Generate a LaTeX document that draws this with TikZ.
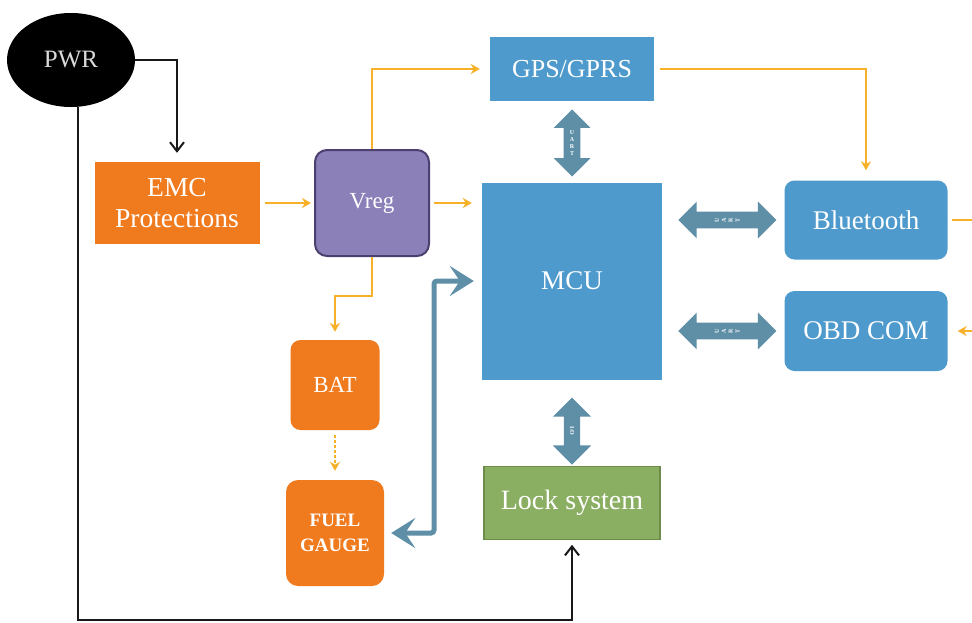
\documentclass[tikz,border=0pt]{standalone}
\usepackage{fontspec}
\setmainfont{Liberation Serif}
\usetikzlibrary{shapes,shapes.geometric,shapes.arrows,arrows,arrows.meta,calc,positioning}

\definecolor{pwrorange}{RGB}{240,123,31}
\definecolor{regpurple}{RGB}{139,128,184}
\definecolor{regedge}{RGB}{75,64,112}
\definecolor{mcublue}{RGB}{78,154,205}
\definecolor{busblue}{RGB}{94,143,166}
\definecolor{lockgreen}{RGB}{138,174,98}
\definecolor{lockedge}{RGB}{108,140,74}
\definecolor{wirecol}{RGB}{246,177,41}

\begin{document}
\begin{tikzpicture}[%
    x=1pt, y=-1pt,
    >=stealth,
    on grid,
    auto,
    font=\fontsize{26}{31}\selectfont,
    block/.style={rectangle, fill=mcublue, text=white, inner sep=0pt, align=center},
    rblock/.style={block, rounded corners=10pt},
    oblock/.style={rblock, fill=pwrorange},
    link/.style={double arrow, fill=busblue, text=white, inner sep=6pt,
      double arrow head extend=10pt, font=\fontsize{6}{6.5}\selectfont\bfseries},
    wire/.style={draw=wirecol, line width=2pt, -{Stealth[length=9pt,width=10pt]}},
    bus/.style={draw=busblue, line width=5pt, rounded corners=3pt,
      {Stealth[length=24pt,width=30pt,inset=10pt]}-{Stealth[length=24pt,width=30pt,inset=10pt]}},
    pwrwire/.style={draw=black!90, line width=2pt, -{Straight Barb[length=9pt,width=14pt]}}
  ]
  \path[fill=white, use as bounding box] (0,0) rectangle (972,622);

  \node[ellipse, fill=black, text=white!85!black, minimum width=128pt, minimum height=94pt,
    inner sep=0pt, font=\fontsize{25}{27}\selectfont] (pwr) at (71,60) {PWR};
  \node[block, fill=pwrorange, minimum width=165pt, minimum height=82pt,
    font=\fontsize{27.5}{31}\selectfont] (emc) at (177,203) {EMC\\Protections};
  \node[block, rounded corners=12pt, fill=regpurple, draw=regedge, line width=2pt,
    minimum width=114pt, minimum height=106pt, font=\fontsize{23}{26}\selectfont] (vreg) [right=195pt of emc] {Vreg};
  \node[block, minimum width=180pt, minimum height=197pt, font=\fontsize{27}{30}\selectfont] (mcu) at (572,281) {MCU};
  \node[block, minimum width=164pt, minimum height=64pt] (gps) [above=212pt of mcu] {GPS/GPRS};
  \node[block, fill=lockgreen, draw=lockedge, line width=1.5pt, minimum width=176pt, minimum height=73pt,
    font=\fontsize{28}{30}\selectfont] (lock) [below=222pt of mcu] {Lock system};
  \node[rblock, minimum width=163pt, minimum height=79pt, font=\fontsize{27}{30}\selectfont] (bt) at (866,220) {Bluetooth};
  \node[rblock, minimum width=163pt, minimum height=80pt, font=\fontsize{27}{30}\selectfont] (obd) [below=111pt of bt] {OBD COM};
  \node[oblock, minimum width=89pt, minimum height=90pt, font=\fontsize{23}{26}\selectfont] (bat) at (335,385) {BAT};
  \node[oblock, rounded corners=12pt, minimum width=98pt, minimum height=106pt,
    font=\fontsize{19}{25}\selectfont\bfseries] (fuel) [below=148pt of bat] {FUEL\\GAUGE};

  % uart / io links
  \node[link, shape border rotate=90, minimum height=67pt] (uartgps) [above=138pt of mcu] {\shortstack{U\\A\\R\\T}};
  \node[link, minimum height=98pt, xshift=4pt] (uartbt) at ($(mcu.east |- bt)!0.5!(bt.west)$) {\rotatebox{90}{\shortstack{U\\A\\R\\T}}};
  \node[link, minimum height=98pt, xshift=4pt] (uartobd) at ($(mcu.east |- obd)!0.5!(obd.west)$) {\rotatebox{90}{\shortstack{U\\A\\R\\T}}};
  \node[link, shape border rotate=90, minimum height=67pt, double arrow head extend=11pt] (io) [below=150pt of mcu] {\rotatebox{-90}{I/O}};

  \coordinate (busx) at (434,0);
  \coordinate (gnd) at (78,619.5);
  \coordinate (btout) at (972,220);
  \coordinate (obdin) at (972,331);

  % power
  \draw[pwrwire, shorten >=9pt] (pwr.east) -| (emc.north);
  \draw[pwrwire, shorten >=4.5pt] (pwr.south -| gnd) -- (gnd) -| (lock.south);

  % supply
  \draw[wire, shorten <=5pt, shorten >=3pt] (emc.east) -- (emc.east -| vreg.west);
  \draw[wire, shorten <=4pt, shorten >=10pt] (vreg.east) -- (vreg.east -| mcu.west);
  \draw[wire, shorten >=10pt] (vreg.north) |- (gps.west);
  \draw[wire, shorten >=8pt] (vreg.south) -- ++(0,39) -| (bat.north);
  \draw[wire, line width=1.2pt, dash pattern=on 3pt off 2pt, shorten <=5pt, shorten >=9pt] (bat.south) -- (bat.south |- fuel.north);
  \draw[wire, shorten <=6pt, shorten >=10pt] (gps.east) -| (bt.north);
  \draw[wire, -, shorten <=4pt] (bt.east) -- (btout);
  \draw[wire, shorten >=10pt] (obdin) -- (obd.east);

  % bus to fuel gauge
  \draw[bus, shorten <=7pt, shorten >=8pt] (fuel.east) -- (fuel.east -| busx) |- (mcu.west);

\end{tikzpicture}
\end{document}
